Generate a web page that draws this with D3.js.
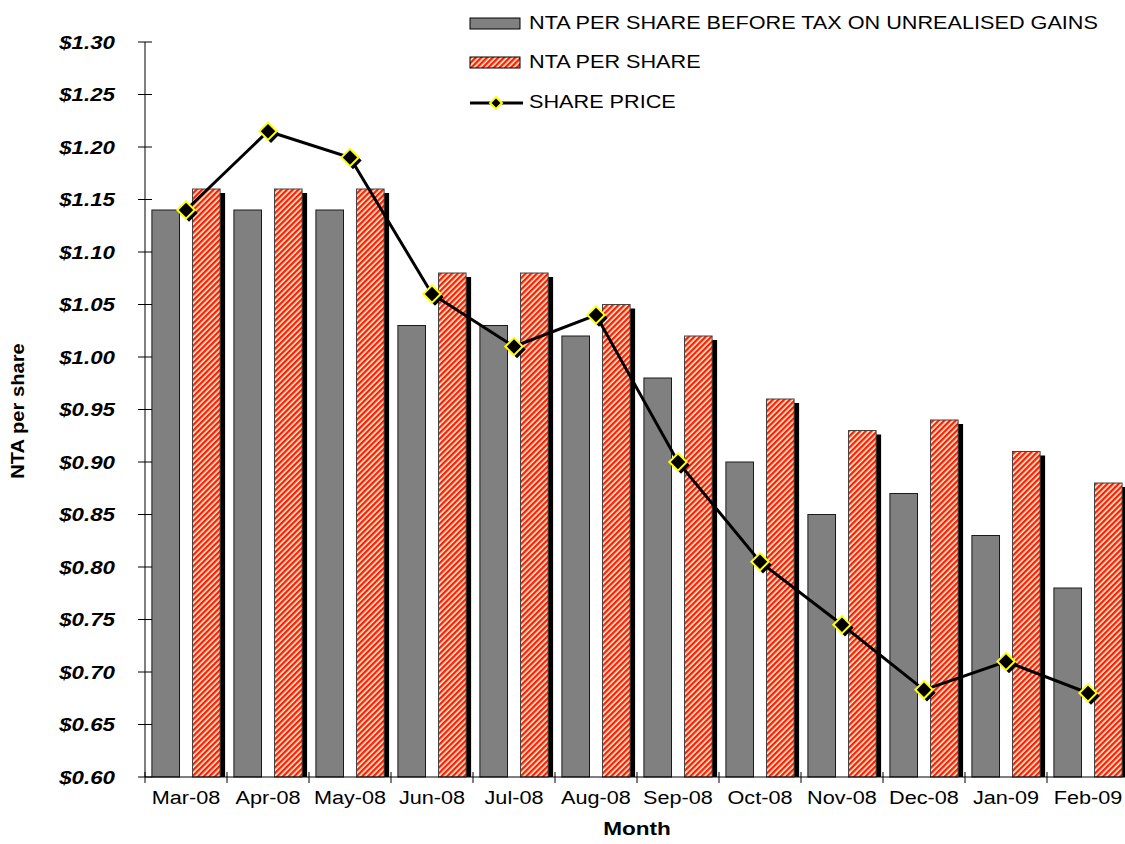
<!DOCTYPE html>
<html>
<head>
<meta charset="utf-8">
<script src="https://cdn.jsdelivr.net/npm/d3@7"></script>
<style>
  html, body { margin: 0; padding: 0; background: #fff; }
  svg { display: block; font-family: "Liberation Sans", Arial, sans-serif; }
</style>
</head>
<body>
<svg id="chart" width="1125" height="844"></svg>
<script>
// Monthly NTA per share vs share price
const months = ["Mar-08","Apr-08","May-08","Jun-08","Jul-08","Aug-08","Sep-08","Oct-08","Nov-08","Dec-08","Jan-09","Feb-09"];
const ntaBeforeTax = [1.14, 1.14, 1.14, 1.03, 1.03, 1.02, 0.98, 0.90, 0.85, 0.87, 0.83, 0.78];
const ntaPerShare  = [1.16, 1.16, 1.16, 1.08, 1.08, 1.05, 1.02, 0.96, 0.93, 0.94, 0.91, 0.88];
const sharePrice   = [1.14, 1.215, 1.19, 1.06, 1.01, 1.04, 0.90, 0.805, 0.745, 0.683, 0.71, 0.68];
const yTicks = [0.60, 0.65, 0.70, 0.75, 0.80, 0.85, 0.90, 0.95, 1.00, 1.05, 1.10, 1.15, 1.20, 1.25, 1.30];
const seriesNames = ["NTA PER SHARE BEFORE TAX ON UNREALISED GAINS", "NTA PER SHARE", "SHARE PRICE"];

const svg = d3.select("#chart");
const plotLeft = 145, plotRight = 1129, plotTop = 42, plotBottom = 777;

const defs = svg.append("defs");
const hatch = defs.append("pattern")
  .attr("id", "hatch")
  .attr("patternUnits", "userSpaceOnUse")
  .attr("width", 4).attr("height", 10)
  .attr("patternTransform", "rotate(45)");
hatch.append("rect").attr("width", 4).attr("height", 10).attr("fill", "#fff0c4");
hatch.append("rect").attr("width", 2.3).attr("height", 10).attr("fill", "#ff1a0a");

const x = d3.scaleBand().domain(months).range([plotLeft, plotRight]).padding(0);
const inner = d3.scaleBand().domain(["before", "nta"]).range([0, x.bandwidth()])
  .paddingInner(0.32).paddingOuter(0.17);
const y = d3.scaleLinear().domain([0.60, 1.30]).range([plotBottom, plotTop]);

const plot = svg.append("g");

// NTA before tax (grey bars)
plot.selectAll("rect.before").data(months).join("rect")
  .attr("class", "before")
  .attr("x", (d) => x(d) + inner("before"))
  .attr("y", (d, i) => y(ntaBeforeTax[i]))
  .attr("width", inner.bandwidth())
  .attr("height", (d, i) => plotBottom - y(ntaBeforeTax[i]))
  .attr("fill", "#808080").attr("stroke", "#1a1a1a").attr("stroke-width", 1);

// NTA per share (hatched bars with drop shadow)
plot.selectAll("rect.shadow").data(months).join("rect")
  .attr("class", "shadow")
  .attr("x", (d) => x(d) + inner("nta") + 5)
  .attr("y", (d, i) => y(ntaPerShare[i]) + 4)
  .attr("width", inner.bandwidth())
  .attr("height", (d, i) => plotBottom - y(ntaPerShare[i]) - 4)
  .attr("fill", "#000");
plot.selectAll("rect.nta").data(months).join("rect")
  .attr("class", "nta")
  .attr("x", (d) => x(d) + inner("nta"))
  .attr("y", (d, i) => y(ntaPerShare[i]))
  .attr("width", inner.bandwidth())
  .attr("height", (d, i) => plotBottom - y(ntaPerShare[i]))
  .attr("fill", "url(#hatch)").attr("stroke", "#444").attr("stroke-width", 1);

// Axes
const yAxis = svg.append("g").attr("transform", `translate(${plotLeft},0)`);
yAxis.append("line").attr("x1", 0).attr("x2", 0).attr("y1", plotTop).attr("y2", plotBottom)
  .attr("stroke", "#000");
yAxis.selectAll("line.tick").data(yTicks).join("line")
  .attr("class", "tick")
  .attr("x1", -7).attr("x2", 7)
  .attr("y1", (d) => y(d)).attr("y2", (d) => y(d))
  .attr("stroke", "#000");
yAxis.selectAll("text").data(yTicks).join("text")
  .attr("transform", (d) => `translate(-30,${y(d) + 6.5}) scale(1.24,1)`)
  .attr("text-anchor", "end")
  .attr("font-size", 18).attr("font-weight", "bold").attr("font-style", "italic")
  .text((d) => "$" + d.toFixed(2));

const xAxis = svg.append("g").attr("transform", `translate(0,${plotBottom})`);
xAxis.append("line").attr("x1", plotLeft).attr("x2", plotRight).attr("stroke", "#000");
xAxis.selectAll("line.tick").data(months.concat(["end"])).join("line")
  .attr("class", "tick")
  .attr("x1", (d, i) => plotLeft + i * x.step()).attr("x2", (d, i) => plotLeft + i * x.step())
  .attr("y1", -5).attr("y2", 6)
  .attr("stroke", "#000");
xAxis.selectAll("text").data(months).join("text")
  .attr("transform", (d) => `translate(${x(d) + x.bandwidth() / 2},27) scale(1.14,1)`)
  .attr("text-anchor", "middle")
  .attr("font-size", 19)
  .text((d) => d);

// Axis titles
svg.append("text").attr("transform", `translate(${(plotLeft + plotRight) / 2},835) scale(1.22,1)`)
  .attr("text-anchor", "middle").attr("font-size", 18.5).attr("font-weight", "bold")
  .text("Month");
svg.append("text").attr("transform", "translate(24,411) rotate(-90) scale(1.12,1)")
  .attr("text-anchor", "middle").attr("font-size", 18).attr("font-weight", "bold")
  .text("NTA per share");

// Share price line with diamond markers
const cx = (i) => x(months[i]) + x.bandwidth() / 2;
const line = d3.line().x((d, i) => cx(i)).y((d) => y(d));
svg.append("path").datum(sharePrice)
  .attr("d", line).attr("fill", "none").attr("stroke", "#000").attr("stroke-width", 3);
const diamond = d3.symbol().type(d3.symbolSquare).size(150);
svg.selectAll("path.mshadow").data(sharePrice).join("path")
  .attr("class", "mshadow")
  .attr("d", diamond)
  .attr("transform", (d, i) => `translate(${cx(i) + 3},${y(d) + 3}) rotate(45)`)
  .attr("fill", "#000");
svg.selectAll("path.marker").data(sharePrice).join("path")
  .attr("class", "marker")
  .attr("d", diamond)
  .attr("transform", (d, i) => `translate(${cx(i)},${y(d)}) rotate(45)`)
  .attr("fill", "#000").attr("stroke", "#ffff00").attr("stroke-width", 2);

// Legend
const legend = svg.append("g");
legend.append("rect").attr("x", 470).attr("y", 18).attr("width", 50).attr("height", 11)
  .attr("fill", "#808080").attr("stroke", "#000").attr("stroke-width", 1);
legend.append("rect").attr("x", 470).attr("y", 57).attr("width", 50).attr("height", 11)
  .attr("fill", "url(#hatch)").attr("stroke", "#000").attr("stroke-width", 1);
legend.append("line").attr("x1", 470).attr("x2", 523).attr("y1", 103).attr("y2", 103)
  .attr("stroke", "#000").attr("stroke-width", 3);
legend.append("path").attr("d", d3.symbol().type(d3.symbolSquare).size(70))
  .attr("transform", "translate(496,103) rotate(45)")
  .attr("fill", "#000").attr("stroke", "#ffff00").attr("stroke-width", 2);
legend.selectAll("text").data(seriesNames).join("text")
  .attr("transform", (d, i) => `translate(529,${[29, 68, 108][i]}) scale(1.14,1)`)
  .attr("font-size", 19)
  .text((d) => d);
</script>
</body>
</html>
